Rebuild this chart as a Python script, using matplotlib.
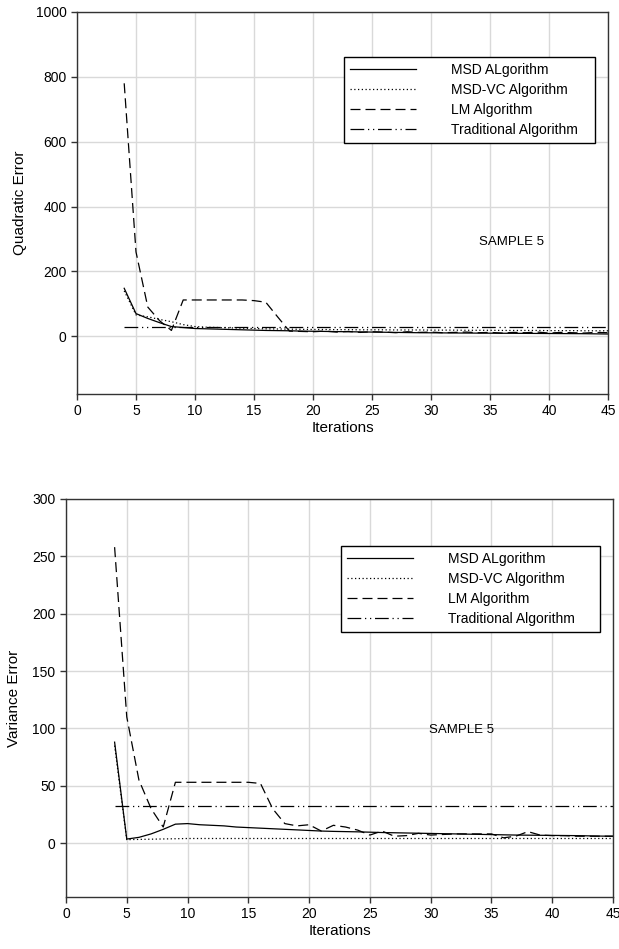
import matplotlib
matplotlib.use("Agg")
import matplotlib.pyplot as plt

plt.rcParams['font.family'] = ['Liberation Sans', 'DejaVu Sans']

# iterations
it = list(range(4, 46))

# Quadratic error (sample 5)
q_msd = [148, 70, 55, 42, 30, 27, 24, 23, 22, 21, 20, 19, 18, 17.5, 17, 16, 15.5, 15, 14.5, 14,
         13.5, 13, 12.5, 12, 11.5, 11, 10.8, 10.5, 10.2, 10, 9.8, 9.6, 9.4, 9.2, 9, 8.8, 8.6, 8.4,
         8.2, 8, 7.5, 7]
q_msdvc = [140, 66, 60, 52, 45, 36, 30, 28, 27, 26, 25, 24, 23, 22.5, 22, 21.5, 21, 21, 20.5, 20.5,
           20, 20, 20, 19.5, 19.5, 19.5, 19, 19, 19, 18.5, 18.5, 18.5, 18, 18, 18, 18, 17.5, 17.5,
           17.5, 17, 17, 17]
q_lm = [780, 260, 90, 48, 18, 112, 112, 112, 112, 112, 112, 110, 105, 60, 16, 15, 14, 16, 13, 15,
        12, 14, 13, 11, 14, 12, 13, 11, 12, 13, 11, 12, 10, 12, 11, 13, 10, 12, 11, 10, 12, 11]
q_trad = [30] * 42

# Variance error (sample 5)
v_msd = [88, 3.5, 5, 8, 12, 16.5, 17, 16, 15.5, 15, 14, 13.5, 13, 12.5, 12, 11.5, 11, 10.5, 10.2,
         10, 9.8, 9.5, 9.2, 9, 8.8, 8.6, 8.4, 8.2, 8, 7.8, 7.6, 7.4, 7.2, 7, 6.9, 6.8, 6.7, 6.6,
         6.5, 6.3, 6.1, 6]
v_msdvc = [85, 3, 3.2, 3.4, 3.6, 3.8, 4, 4, 4, 4, 4, 4, 4, 4, 4, 4, 4, 4, 4, 4, 4, 4, 4, 4, 4, 4,
           4, 4, 4, 4, 4, 4, 4, 4, 4, 4, 4, 4, 4, 4, 4, 4]
v_lm = [258, 110, 55, 30, 14, 53, 53, 53, 53, 53, 53, 53, 52, 30, 17, 15, 16, 10.5, 15.5, 14,
        11.3, 7, 10.5, 6, 6.5, 8.5, 7, 7.5, 8, 8, 8, 8, 4.6, 6, 10, 7, 6.5, 6.5, 6, 6, 6, 6]
v_trad = [32] * 42

names = ["MSD ALgorithm", "MSD-VC Algorithm", "LM Algorithm", "Traditional Algorithm"]

fig = plt.figure(figsize=(6.19, 9.49), dpi=100)
ax1 = fig.add_axes([0.1244, 0.5848, 0.8578, 0.4026])
ax2 = fig.add_axes([0.1066, 0.0548, 0.8837, 0.4194])

dash = (8, 4)
dashdotdot = (11, 3, 1, 3, 1, 3)


def draw(ax, msd, msdvc, lm, trad):
    ax.plot(it, msd, color="black", lw=0.9, label=names[0])
    ax.plot(it, msdvc, color="black", lw=0.9, linestyle=(0, (1, 2)), label=names[1])
    ax.plot(it, lm, color="black", lw=0.9, linestyle=(0, dash), label=names[2])
    ax.plot(it, trad, color="black", lw=0.9, linestyle=(0, dashdotdot), label=names[3])
    ax.set_xlim(0, 45)
    ax.set_xticks(range(0, 46, 5))
    ax.grid(True, color="#d9d9d9", lw=1)
    ax.set_axisbelow(True)
    for s in ax.spines.values():
        s.set_color("#333333")
        s.set_linewidth(1)
    ax.tick_params(direction="out", length=4, width=1, labelsize=10, color="#333333")
    ax.set_xlabel("Iterations", fontsize=11, labelpad=2)
    leg = ax.legend(loc="upper left", bbox_to_anchor=(0.503, 0.882, 0.473, 0.0), mode="expand",
                    fontsize=10, handlelength=4.8, handletextpad=2.5, labelspacing=0.45,
                    fancybox=False, edgecolor="black", framealpha=1, borderaxespad=0)
    leg.get_frame().set_linewidth(1)


draw(ax1, q_msd, q_msdvc, q_lm, q_trad)
ax1.set_ylim(-178, 1000)
ax1.set_yticks(range(0, 1001, 200))
ax1.set_ylabel("Quadratic Error", fontsize=11, labelpad=6)
ax1.text(36.8, 292, "SAMPLE 5", fontsize=9.5, ha="center", va="center")

draw(ax2, v_msd, v_msdvc, v_lm, v_trad)
ax2.set_ylim(-47, 300)
ax2.set_yticks(range(0, 301, 50))
ax2.set_ylabel("Variance Error", fontsize=11, labelpad=8)
ax2.text(32.5, 99, "SAMPLE 5", fontsize=9.5, ha="center", va="center")

fig.savefig("out.png", dpi=100)
